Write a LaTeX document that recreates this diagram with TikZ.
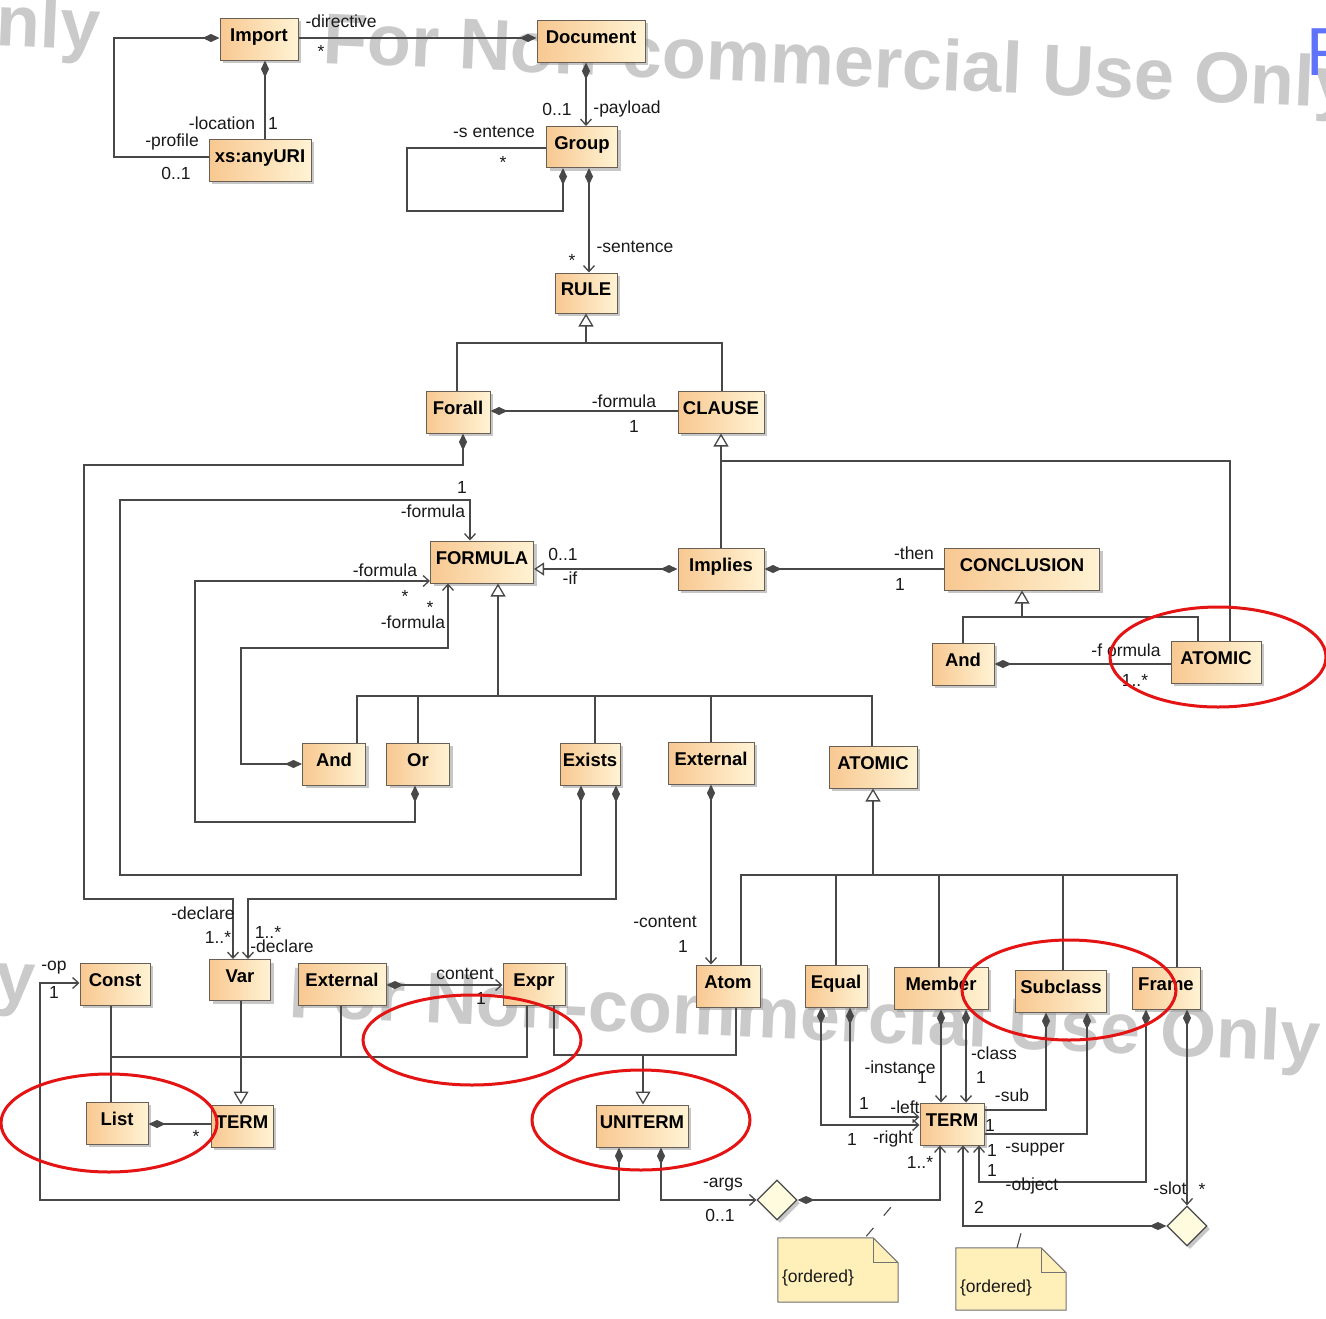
\documentclass[tikz,border=0pt]{standalone}
\usepackage{fontspec}
\setmainfont{Liberation Sans}
\usetikzlibrary{arrows.meta,shapes.geometric,shadows,calc}

\definecolor{boxA}{RGB}{248,200,145}
\definecolor{boxB}{RGB}{255,243,212}
\definecolor{boxline}{RGB}{105,95,85}
\definecolor{linec}{RGB}{72,72,72}
\definecolor{notefill}{RGB}{255,240,185}
\definecolor{assocfill}{RGB}{255,251,222}
\definecolor{markred}{RGB}{228,20,20}
\definecolor{wm}{RGB}{202,202,202}
\definecolor{wmblue}{RGB}{95,115,250}

\tikzset{
  cmp/.tip={Diamond[length=17pt,width=8pt,fill=linec]},
  nav/.tip={Straight Barb[length=6pt,width=11pt]},
  genT/.tip={Triangle[length=13pt,width=15pt,fill=white]},
  ifT/.tip={Triangle[length=10pt,width=13pt,fill=white]},
  cls/.style={rectangle, draw=boxline, line width=1pt, left color=boxA, right color=boxB,
    inner sep=0pt, text height=12pt, text depth=8pt,
    font=\fontsize{18.5}{20}\selectfont\bfseries,
    drop shadow={shadow xshift=3pt, shadow yshift=-3pt, fill=black!40, opacity=.55}},
  assoc/.style={diamond, draw=linec, line width=1.2pt, fill=assocfill, inner sep=0pt,
    minimum width=40pt, minimum height=40pt,
    drop shadow={shadow xshift=3pt, shadow yshift=-3pt, fill=black!40, opacity=.55}},
  notebox/.style={rectangle, inner sep=0pt},
  lbl/.style={font=\fontsize{17.5}{20}\selectfont, inner sep=0pt, text=black!90},
  link/.style={draw=linec, line width=1.3pt},
  anchorline/.style={draw=linec, line width=1.1pt},
  wmark/.style={font=\fontsize{72}{72}\selectfont\bfseries, text=wm, inner sep=0pt, rotate=-2.5},
  redmark/.style={draw=markred, line width=3pt},
}

% class box: name, centre x, centre y, width, height, title
\newcommand\umlclass[6]{\node[cls, minimum width=#4pt, minimum height=#5pt] (#1) at (#2,#3) {#6};}
% role / multiplicity text: name, x, y, text
\newcommand\rolelabel[4]{\node[lbl] (#1) at (#2,#3) {#4};}

\begin{document}
\begin{tikzpicture}[x=1pt,y=-1pt]
\useasboundingbox (0,0) rectangle (1326,1318);
\fill[white] (0,0) rectangle (1326,1318);

% ---------- background stamp ----------
\begin{scope}
  \clip (0,0) rectangle (1326,1318);
  \node[wmark, anchor=base east] (wmA) at (100,50) {Only};
  \node[wmark, anchor=base west] (wmB) at (322,63) {For Non-commercial Use Only};
  \node[font=\fontsize{68}{68}\selectfont, text=wmblue, inner sep=0pt, anchor=base west] (wmC) at (1306,75) {F};
  \node[wmark, anchor=base east] (wmD) at (35,1003) {Only};
  \node[wmark, anchor=base west] (wmE) at (288,1017) {For Non-commercial Use Only};
\end{scope}

% ---------- classes ----------
\umlclass{import}{259}{39}{78}{42}{Import}
\umlclass{document}{591}{41}{108}{42}{Document}
\umlclass{anyuri}{260}{160}{102}{42}{xs:anyURI}
\umlclass{group}{582}{147}{71}{41}{Group}
\umlclass{rule}{586}{293}{62}{40}{RULE}
\umlclass{forall}{458}{412}{64}{42}{Forall}
\umlclass{clause}{721}{412}{86}{42}{CLAUSE}
\umlclass{formula}{482}{562}{103}{42}{FORMULA}
\umlclass{implies}{721}{569}{86}{42}{Implies}
\umlclass{conclusion}{1022}{569}{155}{42}{CONCLUSION}
\umlclass{andR}{963}{664}{62}{42}{And}
\umlclass{atomicR}{1216}{662}{90}{42}{ATOMIC}
\umlclass{andM}{334}{764}{63}{42}{And}
\umlclass{orM}{418}{764}{63}{42}{Or}
\umlclass{exists}{590}{764}{60}{42}{Exists}
\umlclass{externalM}{711}{763}{86}{42}{External}
\umlclass{atomicM}{873}{767}{88}{42}{ATOMIC}
\umlclass{const}{115}{984}{70}{42}{Const}
\umlclass{var}{240}{980}{61}{41}{Var}
\umlclass{externalB}{342}{984}{88}{42}{External}
\umlclass{expr}{534}{984}{62}{42}{Expr}
\umlclass{atom}{728}{986}{64}{42}{Atom}
\umlclass{equal}{836}{986}{62}{42}{Equal}
\umlclass{member}{941}{988}{94}{42}{Member}
\umlclass{subclass}{1061}{991}{91}{42}{Subclass}
\umlclass{frame}{1166}{988}{68}{42}{Frame}
\umlclass{list}{117}{1123}{62}{42}{List}
\umlclass{termL}{242}{1126}{62}{42}{TERM}
\umlclass{uniterm}{642}{1126}{92}{42}{UNITERM}
\umlclass{termR}{952}{1124}{64}{42}{TERM}

% n-ary association diamonds
\node[assoc] (d1) at (777,1200) {};
\node[assoc] (d2) at (1187,1226) {};

% ---------- notes ----------
\node[notebox, minimum width=120pt, minimum height=64pt] (note1) at (838,1270) {};
\node[notebox, minimum width=110pt, minimum height=62pt] (note2) at (1011,1279) {};
\foreach \n in {note1,note2}{
  \fill[black!40, opacity=.55, xshift=3pt, yshift=-3pt]
    (\n.south west) |- ([xshift=-25pt]\n.north east) -- ([yshift=-25pt]\n.north east) -- (\n.south east) -- cycle;
  \draw[draw=black!55, line width=1pt, fill=notefill]
    (\n.south west) |- ([xshift=-25pt]\n.north east) -- ([yshift=-25pt]\n.north east) -- (\n.south east) -- cycle;
  \draw[draw=black!55, line width=1pt]
    ([xshift=-25pt]\n.north east) |- ([yshift=-25pt]\n.north east);
}
\node[lbl, anchor=west] (note1txt) at ([xshift=4pt,yshift=-8pt]note1.west) {\{ordered\}};
\node[lbl, anchor=west] (note2txt) at ([xshift=4pt,yshift=-9pt]note2.west) {\{ordered\}};
\coordinate (argsPt) at (897,1200);
\coordinate (slotPt) at (1023,1226);
\draw[anchorline, dash pattern=on 11pt off 16pt, dash phase=-2pt] ([xshift=27pt]note1.north) -- (argsPt);
\draw[anchorline, dash pattern=on 15pt off 10pt] ([xshift=6pt]note2.north) -- (slotPt);

% ---------- connectors: top ----------
\draw[link,-{cmp}] (import.east |- 0,38) -- (document.west |- 0,38);
\draw[link,{cmp}-] (import.south -| 265,0) -- (anyuri.north -| 265,0);
\draw[link,{cmp}-] (import.west |- 0,38) -| (114,157) -- (anyuri.west |- 0,157);
\draw[link,{cmp}-{nav}] (document.south -| 586,0) -- (group.north -| 586,0);
\draw[link,{cmp}-] (group.south -| 563,0) |- (407,211) |- (group.west |- 0,148);
\draw[link,{cmp}-{nav}] (group.south -| 589,0) -- (rule.north -| 589,0);

% RULE specialisations
\draw[link] (forall.north -| 457,0) |- (722,343) -- (clause.north -| 722,0);
\draw[link,-{genT}] (rule.south |- 0,343) -- (rule.south);
\draw[link,{cmp}-] (forall.east |- 0,411) -- (clause.west |- 0,411);

% declare / formula links
\draw[link,{cmp}-{nav}] (forall.south -| 463,0) |- (84,465) |- (233,899) -- (var.north -| 233,0);
\draw[link,{cmp}-{nav}] (exists.south -| 581,0) |- (120,875) |- (470,500) -- (formula.north -| 470,0);
\draw[link,{cmp}-{nav}] (exists.south -| 616,0) |- (248,899) -- (var.north -| 248,0);
\draw[link,{cmp}-{nav}] (andM.west) -| (241,648) -| (formula.south -| 448,0);
\draw[link,{cmp}-{nav}] (orM.south -| 415,0) |- (195,822) |- (formula.west |- 0,581);

% FORMULA specialisations
\draw[link] (andM.north -| 357,0) |- (872,696) -- (atomicM.north -| 872,0);
\draw[link] (orM.north) -- (orM.north |- 0,696);
\draw[link] (exists.north -| 595,0) -- (595,696);
\draw[link] (externalM.north) -- (externalM.north |- 0,696);
\draw[link,-{genT}] (498,696) -- (formula.south -| 498,0);

% Implies
\draw[link,{cmp}-{ifT}] (implies.west) -- (formula.east |- implies.west);
\draw[link,{cmp}-] (implies.east) -- (conclusion.west |- implies.east);

% CLAUSE specialisations
\draw[link,-{genT}] (implies.north) -- (clause.south);
\draw[link] (clause.south |- 0,461) -| (atomicR.north -| 1230,0);

% CONCLUSION specialisations
\draw[link] (andR.north) |- (1198,617) -- (atomicR.north -| 1198,0);
\draw[link,-{genT}] (conclusion.south |- 0,617) -- (conclusion.south);
\draw[link,{cmp}-] (andR.east) -- (atomicR.west |- andR.east);

% External content
\draw[link,{cmp}-{nav}] (externalM.south) -- (atom.north -| externalM.south);

% ATOMIC specialisations
\draw[link] (atom.north -| 741,0) |- (1177,875) -- (frame.north -| 1177,0);
\draw[link] (equal.north) -- (equal.north |- 0,875);
\draw[link] (member.north -| 939,0) -- (939,875);
\draw[link] (subclass.north -| 1063,0) -- (1063,875);
\draw[link,-{genT}] (atomicM.south |- 0,875) -- (atomicM.south);

% ---------- connectors: bottom ----------
\draw[link,{cmp}-{nav}] (externalB.east |- 0,985) -- (expr.west |- 0,985);

% TERM specialisations
\draw[link,-{genT}] (var.south -| 241,0) -- (termL.north -| 241,0);
\draw[link] (const.south -| 111,0) -- (list.north -| 111,0);
\draw[link] (111,1057) -| (expr.south -| 527,0);
\draw[link] (externalB.south -| 341,0) -- (341,1057);

% UNITERM specialisations
\draw[link] (expr.south -| 554,0) |- (736,1055) -- (atom.south -| 736,0);
\draw[link,-{genT}] (643,1055) -- (uniterm.north -| 643,0);

\draw[link,{cmp}-] (list.east |- 0,1124) -- (termL.west |- 0,1124);

\draw[link,{cmp}-{nav}] (uniterm.south -| 619,0) |- (40,1200) |- (const.west |- 0,983);
\draw[link,{cmp}-{nav}] (uniterm.south -| 661,0) |- (d1.west);
\draw[link,{cmp}-{nav}] (d1.east) -| (termR.south -| 940,0);

\draw[link,{cmp}-{nav}] (equal.south -| 850,0) |- (termR.west |- 0,1117);
\draw[link,{cmp}-{nav}] (equal.south -| 821,0) |- (termR.west |- 0,1125);
\draw[link,{cmp}-{nav}] (member.south -| 941,0) -- (termR.north -| 941,0);
\draw[link,{cmp}-{nav}] (member.south -| 966,0) -- (termR.north -| 966,0);
\draw[link,{cmp}-] (subclass.south -| 1046,0) |- (termR.east |- 0,1110);
\draw[link,{cmp}-] (subclass.south -| 1087,0) |- (termR.east |- 0,1134);
\draw[link,{cmp}-{nav}] (frame.south -| 1146,0) |- (979,1182) -- (termR.south -| 979,0);
\draw[link,{cmp}-{nav}] (frame.south -| 1187,0) -- (d2.north);
\draw[link,{cmp}-{nav}] (d2.west) -| (termR.south -| 963,0);

% ---------- role names and multiplicities ----------
\rolelabel{lb1}{341}{21}{-directive}
\rolelabel{lb2}{321}{51}{*}
\rolelabel{lb3}{222}{123}{-location}
\rolelabel{lb4}{273}{123}{1}
\rolelabel{lb5}{172}{142}{-profile}
\rolelabel{lb6}{176}{173}{0..1}
\rolelabel{lb7}{557}{109}{0..1}
\rolelabel{lb8}{627}{109}{-payload}
\rolelabel{lb9}{494}{132}{-s entence}
\rolelabel{lb10}{503}{162}{*}
\rolelabel{lb11}{572}{260}{*}
\rolelabel{lb12}{635}{247}{-sentence}
\rolelabel{lb13}{624}{401}{-formula}
\rolelabel{lb14}{634}{426}{1}
\rolelabel{lb15}{462}{487}{1}
\rolelabel{lb16}{433}{511}{-formula}
\rolelabel{lb17}{385}{570}{-formula}
\rolelabel{lb18}{405}{596}{*}
\rolelabel{lb19}{430}{607}{*}
\rolelabel{lb20}{413}{622}{-formula}
\rolelabel{lb21}{563}{554}{0..1}
\rolelabel{lb22}{570}{578}{-if}
\rolelabel{lb23}{914}{553}{-then}
\rolelabel{lb24}{900}{584}{1}
\rolelabel{lb25}{1126}{650}{-f ormula}
\rolelabel{lb26}{1135}{680}{1..*}
\rolelabel{lb27}{203}{913}{-declare}
\rolelabel{lb28}{218}{937}{1..*}
\rolelabel{lb29}{268}{932}{1..*}
\rolelabel{lb30}{282}{946}{-declare}
\rolelabel{lb31}{665}{922}{-content}
\rolelabel{lb32}{683}{946}{1}
\rolelabel{lb33}{465}{974}{content}
\rolelabel{lb34}{481}{998}{1}
\rolelabel{lb35}{54}{968}{-op}
\rolelabel{lb36}{54}{992}{1}
\rolelabel{lb37}{196}{1136}{*}
\rolelabel{lb38}{723}{1185}{-args}
\rolelabel{lb39}{720}{1215}{0..1}
\rolelabel{lb40}{920}{1162}{1..*}
\rolelabel{lb41}{900}{1067}{-instance}
\rolelabel{lb42}{922}{1077}{1}
\rolelabel{lb43}{864}{1103}{1}
\rolelabel{lb44}{905}{1107}{-left}
\rolelabel{lb45}{852}{1139}{1}
\rolelabel{lb46}{893}{1139}{-right}
\rolelabel{lb47}{994}{1053}{-class}
\rolelabel{lb48}{981}{1077}{1}
\rolelabel{lb49}{1012}{1095}{-sub}
\rolelabel{lb50}{990}{1125}{1}
\rolelabel{lb51}{992}{1150}{1}
\rolelabel{lb52}{1035}{1150}{-supper}
\rolelabel{lb53}{992}{1170}{1}
\rolelabel{lb54}{1032}{1186}{-object}
\rolelabel{lb55}{979}{1207}{2}
\rolelabel{lb56}{1170}{1188}{-slot}
\rolelabel{lb57}{1202}{1189}{*}

% ---------- highlight rings ----------
\draw[redmark] (1218,657) ellipse [x radius=108pt, y radius=50pt];
\draw[redmark] (1069,990) ellipse [x radius=107pt, y radius=50pt];
\draw[redmark] (472,1040) ellipse [x radius=109pt, y radius=45pt];
\draw[redmark] (109,1123) ellipse [x radius=108pt, y radius=49pt];
\draw[redmark] (641,1120) ellipse [x radius=109pt, y radius=50pt];
\end{tikzpicture}
\end{document}
